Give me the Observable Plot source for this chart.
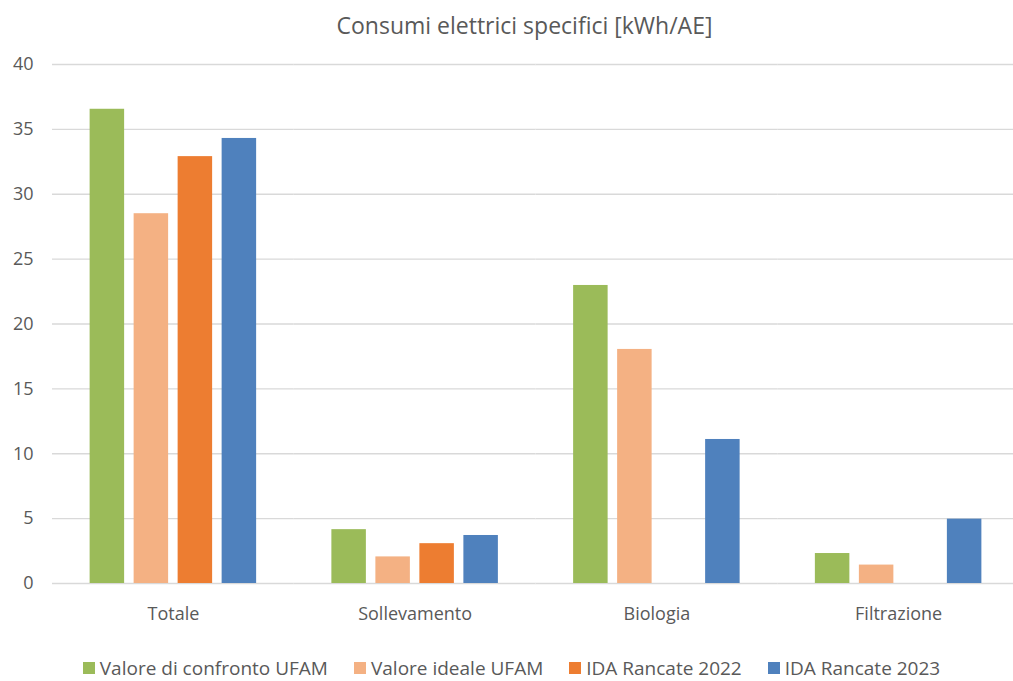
<!DOCTYPE html>
<html>
<head>
<meta charset="utf-8">
<script src="https://cdn.jsdelivr.net/npm/d3@7"></script>
<script src="https://cdn.jsdelivr.net/npm/@observablehq/plot@0.6"></script>
<style>
  html, body { margin: 0; background: #fff; overflow: hidden; }
  body { font-family: "Open Sans", Lato, sans-serif; color: #595959; width: 1013px; }
  #title { height: 45px; line-height: 50px; text-align: center; font-size: 23px; padding-left: 36px; box-sizing: border-box; width: 1013px; }
  #chart { width: 1013px; overflow: hidden; height: 600px; }
  #legend { display: flex; justify-content: center; gap: 26px; font-size: 19px; margin-top: 10px; width: 1013px; padding-left: 10px; box-sizing: border-box; }
  #legend .item { display: flex; align-items: center; gap: 5px; }
  #legend .sw { width: 12px; height: 12px; display: inline-block; }
</style>
</head>
<body>
<div id="title">Consumi elettrici specifici [kWh/AE]</div>
<div id="chart"></div>
<div id="legend"></div>
<script>
const categories = ["Totale", "Sollevamento", "Biologia", "Filtrazione"];
const seriesNames = ["Valore di confronto UFAM", "Valore ideale UFAM", "IDA Rancate 2022", "IDA Rancate 2023"];
const colors = ["#9BBB59", "#F4B183", "#ED7D31", "#4F81BD"];
const valoreConfronto = [36.55, 4.15, 22.97, 2.31];
const valoreIdeale = [28.5, 2.05, 18.04, 1.42];
const rancate2022 = [32.9, 3.07, null, null];
const rancate2023 = [34.3, 3.7, 11.1, 4.96];
const yTicks = [0, 5, 10, 15, 20, 25, 30, 35, 40];

const seriesValues = [valoreConfronto, valoreIdeale, rancate2022, rancate2023];
const data = [];
categories.forEach((c, i) => {
  seriesNames.forEach((s, j) => {
    const v = seriesValues[j][i];
    if (v != null) data.push({cat: c, series: s, value: v});
  });
});

const chart = Plot.plot({
  width: 1019,
  height: 600,
  marginTop: 19,
  marginBottom: 62,
  marginLeft: 52,
  marginRight: 0,
  style: {fontFamily: "'Open Sans', Lato, sans-serif", fontSize: "18px", color: "#595959", background: "#fff", overflow: "visible", maxWidth: "none"},
  fx: {domain: categories, padding: 0, round: false, label: null, axis: "bottom", tickSize: 0, tickPadding: 24},
  x: {domain: seriesNames, paddingInner: 0.216, paddingOuter: 0.855, round: false, axis: null},
  y: {domain: [0, 40], ticks: yTicks, label: null, tickSize: 0, tickPadding: 19},
  color: {domain: seriesNames, range: colors},
  marks: [
    Plot.ruleY(yTicks, {stroke: "#d9d9d9", strokeWidth: 1.3}),
    Plot.barY(data, {fx: "cat", x: "series", y: "value", fill: "series"})
  ]
});
document.getElementById("chart").appendChild(chart);

const legend = document.getElementById("legend");
seriesNames.forEach((s, i) => {
  const item = document.createElement("div");
  item.className = "item";
  const sw = document.createElement("span");
  sw.className = "sw";
  sw.style.background = colors[i];
  const t = document.createElement("span");
  t.textContent = s;
  item.appendChild(sw);
  item.appendChild(t);
  legend.appendChild(item);
});
</script>
</body>
</html>
